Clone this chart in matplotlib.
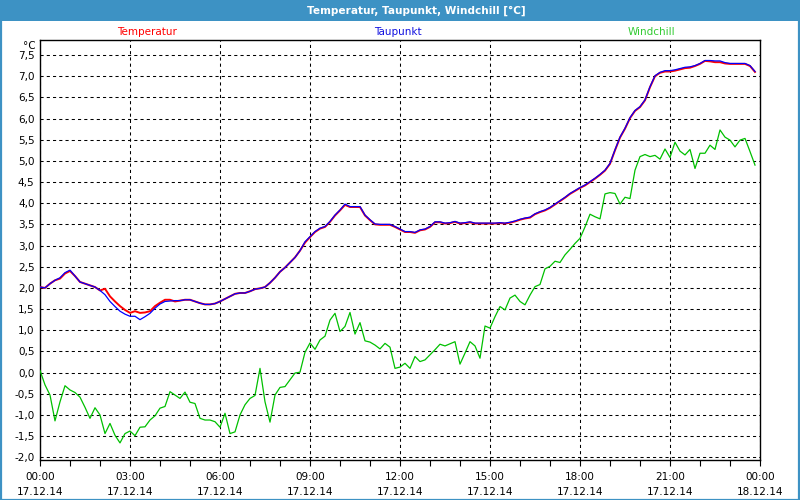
import matplotlib
matplotlib.use("Agg")
import matplotlib.pyplot as plt
import matplotlib.dates as mdates
from matplotlib.patches import Rectangle
from matplotlib.ticker import MultipleLocator, FuncFormatter
import pandas as pd

title = "Temperatur, Taupunkt, Windchill [°C]"
series_names = ["Temperatur", "Taupunkt", "Windchill"]
start_time = "2014-12-17 00:00"
sample_step = "10min"

temperatur = [
    2.02, 2.00, 2.10, 2.18, 2.22, 2.34, 2.40, 2.28, 2.14, 2.10, 2.06, 2.02,
    1.94, 1.98, 1.80, 1.68, 1.57, 1.48, 1.41, 1.45, 1.41, 1.42, 1.45, 1.57,
    1.65, 1.72, 1.72, 1.68, 1.70, 1.72, 1.72, 1.68, 1.64, 1.61, 1.61, 1.63,
    1.68, 1.74, 1.80, 1.86, 1.88, 1.88, 1.92, 1.97, 1.99, 2.02, 2.12, 2.24,
    2.38, 2.48, 2.60, 2.72, 2.88, 3.07, 3.20, 3.32, 3.40, 3.44, 3.56, 3.71,
    3.83, 3.96, 3.91, 3.91, 3.91, 3.71, 3.60, 3.50, 3.49, 3.49, 3.49, 3.44,
    3.38, 3.32, 3.32, 3.30, 3.36, 3.38, 3.44, 3.55, 3.55, 3.52, 3.53, 3.56,
    3.52, 3.53, 3.55, 3.52, 3.52, 3.52, 3.52, 3.52, 3.53, 3.52, 3.54, 3.57,
    3.61, 3.64, 3.66, 3.74, 3.79, 3.83, 3.89, 3.97, 4.05, 4.13, 4.22, 4.29,
    4.36, 4.42, 4.50, 4.58, 4.67, 4.77, 4.93, 5.25, 5.55, 5.76, 6.01, 6.18,
    6.27, 6.43, 6.74, 7.00, 7.08, 7.11, 7.11, 7.13, 7.16, 7.19, 7.20, 7.24,
    7.29, 7.36, 7.35, 7.33, 7.33, 7.30, 7.29, 7.29, 7.29, 7.29, 7.24, 7.10,
]

taupunkt = [
    2.02, 2.00, 2.10, 2.18, 2.24, 2.36, 2.42, 2.28, 2.14, 2.10, 2.06, 2.02,
    1.94, 1.84, 1.68, 1.56, 1.45, 1.38, 1.33, 1.33, 1.25, 1.32, 1.40, 1.52,
    1.62, 1.68, 1.69, 1.70, 1.70, 1.72, 1.72, 1.68, 1.64, 1.61, 1.61, 1.63,
    1.68, 1.74, 1.80, 1.86, 1.88, 1.88, 1.92, 1.97, 1.99, 2.02, 2.12, 2.24,
    2.38, 2.48, 2.60, 2.72, 2.88, 3.09, 3.21, 3.33, 3.41, 3.45, 3.57, 3.72,
    3.84, 3.98, 3.92, 3.92, 3.92, 3.72, 3.61, 3.51, 3.50, 3.50, 3.50, 3.45,
    3.39, 3.33, 3.33, 3.31, 3.37, 3.39, 3.45, 3.56, 3.56, 3.53, 3.54, 3.57,
    3.53, 3.54, 3.56, 3.53, 3.53, 3.53, 3.53, 3.53, 3.54, 3.53, 3.55, 3.58,
    3.62, 3.65, 3.67, 3.75, 3.80, 3.84, 3.90, 3.98, 4.06, 4.14, 4.23, 4.30,
    4.37, 4.43, 4.51, 4.59, 4.68, 4.78, 4.94, 5.26, 5.56, 5.77, 6.02, 6.19,
    6.28, 6.44, 6.75, 7.01, 7.09, 7.13, 7.13, 7.15, 7.18, 7.21, 7.22, 7.25,
    7.30, 7.37, 7.37, 7.36, 7.36, 7.32, 7.30, 7.30, 7.30, 7.30, 7.25, 7.11,
]

windchill = [
    0.05, -0.29, -0.53, -1.14, -0.69, -0.31, -0.41, -0.47, -0.58, -0.82, -1.08, -0.83,
    -1.00, -1.44, -1.20, -1.48, -1.66, -1.44, -1.38, -1.49, -1.29, -1.28, -1.12, -1.02,
    -0.84, -0.80, -0.45, -0.53, -0.61, -0.46, -0.70, -0.73, -1.08, -1.12, -1.12, -1.16,
    -1.29, -0.96, -1.44, -1.40, -1.00, -0.76, -0.61, -0.54, 0.10, -0.69, -1.17, -0.53,
    -0.35, -0.33, -0.17, -0.01, 0.01, 0.48, 0.70, 0.55, 0.77, 0.86, 1.24, 1.40,
    0.97, 1.09, 1.42, 0.91, 1.18, 0.75, 0.72, 0.65, 0.56, 0.69, 0.60, 0.10,
    0.13, 0.22, 0.10, 0.38, 0.26, 0.30, 0.42, 0.54, 0.67, 0.63, 0.68, 0.73,
    0.20, 0.46, 0.73, 0.63, 0.34, 1.10, 1.05, 1.32, 1.56, 1.48, 1.76, 1.83,
    1.68, 1.60, 1.83, 2.03, 2.08, 2.45, 2.51, 2.63, 2.60, 2.78, 2.91, 3.05,
    3.17, 3.44, 3.74, 3.68, 3.63, 4.22, 4.25, 4.23, 3.98, 4.14, 4.11, 4.78,
    5.10, 5.15, 5.10, 5.13, 5.04, 5.28, 5.08, 5.44, 5.23, 5.14, 5.27, 4.82,
    5.18, 5.18, 5.37, 5.27, 5.73, 5.56, 5.49, 5.33, 5.49, 5.53, 5.22, 4.90,
]

times = pd.date_range(start_time, periods=len(taupunkt), freq=sample_step)

W, H = 800, 500
fig = plt.figure(figsize=(8, 5), dpi=100)
fig.patch.set_facecolor("white")
frame_col = "#3d92c4"

# window frame and title bar
fig.patches.append(Rectangle((0, 1 - 21 / H), 1, 21 / H, transform=fig.transFigure,
                             facecolor=frame_col, edgecolor="none", zorder=0))
fig.patches.append(Rectangle((0.5 / W, 0.5 / H), 1 - 1.5 / W, 1 - 1.0 / H, transform=fig.transFigure,
                             facecolor="none", edgecolor=frame_col, linewidth=1.6, zorder=0))
fig.text(416 / W, 1 - 11 / H, title, color="white", fontsize=7.6, fontweight="bold",
         family="DejaVu Sans", ha="center", va="center")

ax = fig.add_axes([40 / W, 40 / H, 720 / W, 420 / H])
ax.set_facecolor("white")

ax.plot(times, temperatur, color="#ff0000", lw=1.4, zorder=3)
ax.plot(times, taupunkt, color="#0000ff", lw=0.9, zorder=4)
ax.plot(times, windchill, color="#00c000", lw=0.9, zorder=3)

ax.set_xlim(pd.Timestamp("2014-12-17 00:00"), pd.Timestamp("2014-12-18 00:00"))
ax.set_ylim(-2.064, 7.854)

ax.xaxis.set_major_locator(mdates.HourLocator(byhour=range(0, 24, 3)))
ax.xaxis.set_minor_locator(mdates.HourLocator())
ax.xaxis.set_major_formatter(mdates.DateFormatter("%H:%M\n%d.%m.%y"))
ax.yaxis.set_major_locator(MultipleLocator(0.5))
ax.yaxis.set_major_formatter(FuncFormatter(lambda v, p: f"{v:.1f}".replace(".", ",").replace("-0,0", "0,0")))

ax.tick_params(axis="x", which="both", direction="out", length=4, width=0.8, color="black",
               labelsize=7.5, pad=5)
ax.tick_params(axis="y", which="both", length=0, labelsize=7.5, pad=4)
for lab in ax.get_xticklabels():
    lab.set_linespacing(1.6)

ax.grid(True, which="major", color="black", linestyle=(0, (3, 3)), linewidth=0.75)
for s in ax.spines.values():
    s.set_color("black")
    s.set_linewidth(1.0)

fig.text(36 / W, 1 - 46 / H, "°C", fontsize=7.5, ha="right", va="center")

leg_cols = ["#ff0000", "#1010e0", "#33cc33"]
leg_x = [147, 398, 651]
for name, c, x in zip(series_names, leg_cols, leg_x):
    fig.text(x / W, 1 - 32 / H, name, color=c, fontsize=7.5, ha="center", va="center")

fig.savefig("out.png", dpi=100, facecolor=fig.get_facecolor())
